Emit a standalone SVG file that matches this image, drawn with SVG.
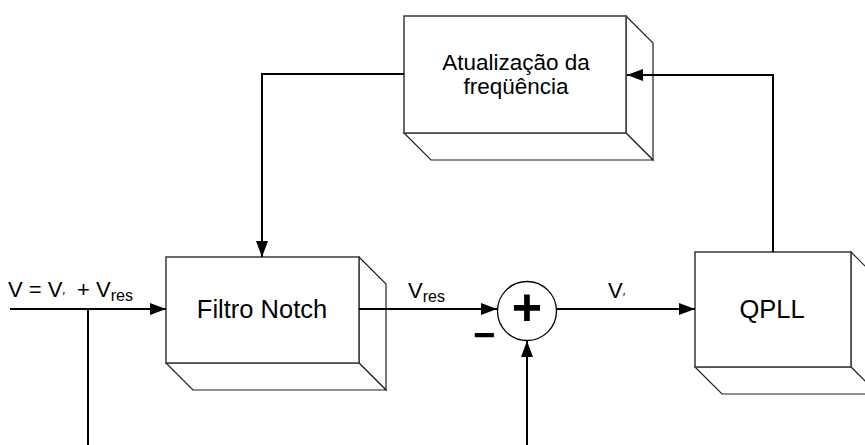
<svg xmlns="http://www.w3.org/2000/svg" width="865" height="445" viewBox="0 0 865 445">
<style>
.face{fill:#fff;stroke:#3a3a3a;stroke-width:1.5}
.side{fill:#fff;stroke:#222;stroke-width:1.2}
.conn{fill:none;stroke:#000;stroke-width:2}
.t{font-family:"Liberation Sans",Arial,sans-serif;fill:#000}
</style>
<defs>
<marker id="ah" markerUnits="userSpaceOnUse" markerWidth="18" markerHeight="14" refX="16" refY="7" orient="auto">
<path d="M0,1 L16,7 L0,13 Z" fill="#000"/>
</marker>
</defs>
<g id="atualizacao">
<polygon class="side" points="626,16 653,43 653,160 626,133"/>
<polygon class="side" points="404,133 626,133 653,160 431,160"/>
<rect class="face" x="404" y="16" width="222" height="117"/>
<text class="t" x="516" y="70" font-size="22.5" text-anchor="middle">Atualização da</text>
<text class="t" x="516" y="94" font-size="22.5" text-anchor="middle">freqüência</text>
</g>
<g id="filtro">
<polygon class="side" points="359,257 386,284 386,390 359,363"/>
<polygon class="side" points="166,363 359,363 386,390 193,390"/>
<rect class="face" x="166" y="257" width="193" height="106"/>
<text class="t" x="262" y="318" font-size="25.5" text-anchor="middle">Filtro Notch</text>
</g>
<g id="qpll">
<polygon class="side" points="851,252 878,279 878,394 851,367"/>
<polygon class="side" points="695,367 851,367 878,394 722,394"/>
<rect class="face" x="695" y="252" width="156" height="115"/>
<text class="t" x="772" y="318" font-size="25.5" text-anchor="middle">QPLL</text>
</g>
<g id="somador">
<circle cx="527" cy="311" r="29.5" fill="#fff" stroke="#000" stroke-width="1.3"/>
<text class="t" x="527" y="325" font-size="52" font-weight="bold" text-anchor="middle">+</text>
<text class="t" x="484" y="348" font-size="38" font-weight="bold" text-anchor="middle">−</text>
</g>
<g id="connectors">
<path class="conn" d="M10,309 H166" marker-end="url(#ah)"/>
<path class="conn" d="M88,309 V445"/>
<path class="conn" d="M404,74 H262 V257" marker-end="url(#ah)"/>
<path class="conn" d="M359,309 H497" marker-end="url(#ah)"/>
<path class="conn" d="M557,309 H695" marker-end="url(#ah)"/>
<path class="conn" d="M527,445 V341" marker-end="url(#ah)"/>
<path class="conn" d="M773,252 V75 H627" marker-end="url(#ah)"/>
</g>
<g id="labels">
<text class="t" x="8" y="297" font-size="22" xml:space="preserve">V = V<tspan font-size="13" dy="4">′</tspan><tspan dy="-4">  + V</tspan><tspan font-size="16" dy="4">res</tspan></text>
<text class="t" x="408" y="298" font-size="22">V<tspan font-size="16" dy="4">res</tspan></text>
<text class="t" x="608" y="298" font-size="22">V<tspan font-size="13" dy="4">′</tspan></text>
</g>
</svg>
